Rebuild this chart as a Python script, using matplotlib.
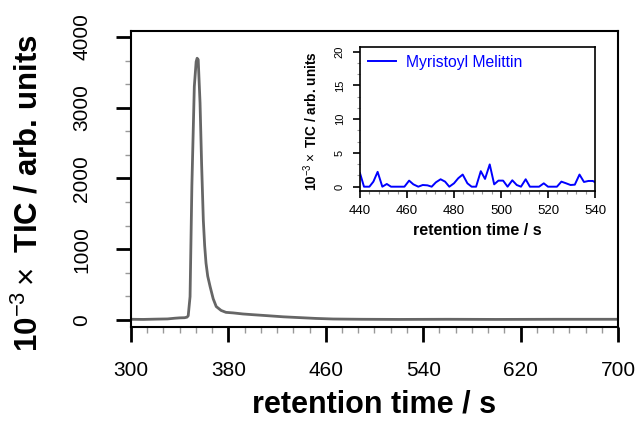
import matplotlib
matplotlib.use("Agg")
import numpy as np
import matplotlib.pyplot as plt
from matplotlib.ticker import MultipleLocator

plt.rcParams['font.family'] = ['Liberation Sans', 'DejaVu Sans']
plt.rcParams['mathtext.fontset'] = 'custom'
plt.rcParams['mathtext.rm'] = 'Liberation Sans'
plt.rcParams['mathtext.bf'] = 'Liberation Sans:bold'

# ===== main chromatogram (TIC) =====
main_time = [300, 310, 320, 330, 336, 340, 344, 346, 347, 348.5, 350, 352, 353.5, 354.3, 355.2,
             356.7, 358, 359.4, 360.5, 361.6, 363, 365, 367.5, 370, 374, 378, 384, 392,
             400, 411, 425, 439, 452, 466, 490, 520, 560, 600, 650, 700]
main_tic = [10, 8, 12, 15, 25, 30, 32, 40, 60, 330, 1900, 3300, 3650, 3700, 3680,
            3070, 2200, 1410, 1050, 805, 620, 470, 300, 190, 135, 108, 100, 85,
            75, 62, 45, 33, 22, 14, 10, 8, 10, 8, 10, 10]

# ===== inset: Myristoyl Melittin =====
inset_time = [440, 441.7, 444, 445.7, 447.5, 449.5, 451.4, 453.2, 458.9, 460.9, 462.7, 464.8,
              466.7, 468.7, 470.5, 472.3, 474.3, 476.2, 478, 480, 481.8, 483.7, 485.7, 487.5,
              489.4, 491.4, 493.2, 495.2, 497.1, 498.9, 500.9, 502.8, 504.8, 506.7, 508.5,
              510.5, 512.3, 516.2, 518.2, 520, 523.8, 525.7, 527.7, 529.6, 531.4, 533.4,
              535.3, 537.2, 539.1, 540]
inset_tic = [2.0, 0, 0, 0.75, 2.2, 0, 0.4, 0, 0, 0.9, 0.35, 0,
             0.25, 0.2, 0, 0.65, 1.1, 0.75, 0, 0.5, 1.25, 1.8, 0.5, 0,
             0, 2.3, 1.15, 3.3, 0.35, 0.9, 0.9, 0, 0.95, 0.25, 0,
             1.1, 0, 0, 0.5, 0, 0, 0.75, 0.5, 0.25, 0.3, 1.8,
             0.7, 0.85, 0.85, 0.65]

ylab = r"$\mathbf{10}^{-3}\times$" + " TIC / arb. units"

fig = plt.figure(figsize=(6.4, 4.21), dpi=100)
ax = fig.add_axes([0.2047, 0.2233, 0.7609, 0.7019])
ax.plot(main_time, main_tic, color='#666666', lw=2.0)
ax.set_xlim(300, 700)
ax.set_ylim(-99, 4078)
ax.set_xticks(np.arange(300, 701, 80))
ax.set_xticks(np.arange(300, 701, 80 / 6), minor=True)
ax.yaxis.set_major_locator(MultipleLocator(1000))
ax.yaxis.set_minor_locator(MultipleLocator(1000 / 3))
ax.tick_params(which='major', direction='out', length=10.5, width=2, labelsize=15)
ax.tick_params(which='minor', direction='out', length=4.5, width=1, color='#999999')
ax.tick_params(axis='x', which='major', pad=14)
ax.tick_params(axis='y', which='major', labelrotation=90, pad=18)
for lab in ax.get_yticklabels():
  lab.set_va('center')
for s in ax.spines.values():
  s.set_linewidth(1.5)
ax.set_xlabel("retention time / s", fontsize=22, fontweight='bold')
ax.xaxis.set_label_coords(0.5, -0.212)
ax.set_ylabel(ylab, fontsize=22.5, fontweight='bold')
ax.yaxis.set_label_coords(-0.177, 0.453)

# ===== inset =====
ins = fig.add_axes([0.5625, 0.5463, 0.3672, 0.3420])
ins.plot(inset_time, inset_tic, color='#0000ff', lw=1.4, label='Myristoyl Melittin')
ins.set_xlim(440, 540)
ins.set_ylim(-0.64, 20.7)
ins.xaxis.set_major_locator(MultipleLocator(20))
ins.xaxis.set_minor_locator(MultipleLocator(4))
ins.yaxis.set_major_locator(MultipleLocator(5))
ins.yaxis.set_minor_locator(MultipleLocator(5 / 3))
ins.tick_params(which='major', direction='out', length=5, width=1.2, labelsize=9.5, pad=5)
ins.tick_params(which='minor', direction='out', length=2.5, width=0.8, color='#999999')
ins.tick_params(axis='y', which='major', labelrotation=90, labelsize=8, pad=6)
for lab in ins.get_yticklabels():
  lab.set_va('center')
for s in ins.spines.values():
  s.set_linewidth(1.2)
ins.set_xlabel("retention time / s", fontsize=11.5, fontweight='bold')
ins.xaxis.set_label_coords(0.5, -0.22)
ins.set_ylabel(ylab, fontsize=9.8, fontweight='bold')
ins.yaxis.set_label_coords(-0.172, 0.486)
leg = ins.legend(loc='upper left', frameon=False, fontsize=11.3, handlelength=1.8,
                 handletextpad=0.6, borderaxespad=0.1, borderpad=0.4)
for t in leg.get_texts():
  t.set_color('#0000ff')

fig.savefig("out.png", dpi=100)
